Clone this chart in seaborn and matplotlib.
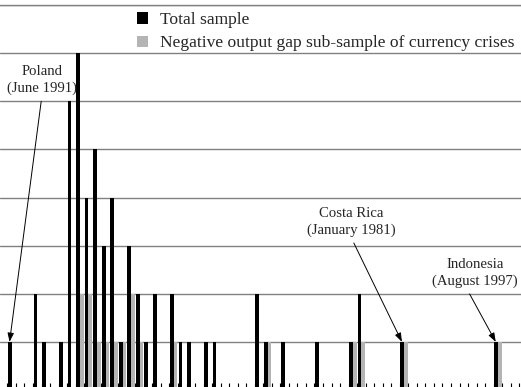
import numpy as np
import pandas as pd
import matplotlib
matplotlib.use("Agg")
import matplotlib.pyplot as plt
import seaborn as sns

# ---------------- data ----------------
bins = list(range(60))
total_sample = [
    1, 0, 0, 2, 1, 0, 1, 6, 7, 4,
    5, 3, 4, 1, 3, 2, 1, 2, 0, 2,
    1, 1, 0, 1, 1, 0, 0, 0, 0, 2,
    1, 0, 1, 0, 0, 0, 1, 0, 0, 0,
    1, 2, 0, 0, 0, 0, 1, 0, 0, 0,
    0, 0, 0, 0, 0, 0, 0, 1, 0, 0,
]
negative_gap = [
    0, 0, 0, 0, 0, 0, 0, 0, 2, 2,
    1, 1, 1, 1, 2, 1, 0, 0, 0, 1,
    0, 0, 0, 0, 0, 0, 0, 0, 0, 0,
    1, 0, 0, 0, 0, 0, 0, 0, 0, 0,
    1, 1, 0, 0, 0, 0, 1, 0, 0, 0,
    0, 0, 0, 0, 0, 0, 0, 1, 0, 0,
]
series_names = ["Total sample", "Negative output gap sub-sample of currency crises"]
annot_labels = ["Poland\n(June 1991)", "Costa Rica\n(January 1981)", "Indonesia\n(August 1997)"]
annot_bins = [0, 46, 57]

df = pd.DataFrame({
    "bin": bins * 2,
    "count": total_sample + negative_gap,
    "series": [series_names[0]] * len(bins) + [series_names[1]] * len(bins),
})

sns.set_style("white")
plt.rcParams["font.family"] = ["Liberation Serif", "DejaVu Serif"]

W, H = 521, 387
fig = plt.figure(figsize=(W / 100, H / 100), dpi=100)
ax = fig.add_axes([0, -3 / H, 1, 385 / H])

sns.barplot(data=df, x="bin", y="count", hue="series", order=bins,
            hue_order=series_names, palette=["black", "#b4b4b4"],
            width=0.86, saturation=1, errorbar=None, linewidth=0, ax=ax)

ax.set_xlim(-1.37, 59.71)
ax.set_ylim(0, 8)
ax.set_axisbelow(True)
ax.set_yticks(range(1, 9))
ax.yaxis.grid(True, color="#808080", lw=1)
ax.xaxis.grid(False)
ax.tick_params(axis="y", length=0, labelleft=False)
ax.set_xticks(np.arange(-0.5, len(bins), 1))
ax.set_xticklabels([])
ax.tick_params(axis="x", direction="in", length=5, width=0.8, color="black", bottom=True)
ax.set_xlabel("")
ax.set_ylabel("")
for s in ["left", "right", "bottom"]:
    ax.spines[s].set_visible(False)
ax.spines["top"].set_color("#808080")
ax.spines["top"].set_linewidth(1)

ax.legend(loc="upper left", bbox_to_anchor=(137 / W, 1 - 12 / H),
          bbox_transform=fig.transFigure, frameon=False, fontsize=12.6,
          handlelength=0.62, handleheight=0.62, handletextpad=0.72,
          labelspacing=0.42, borderpad=0, borderaxespad=0)

text_pos = [(42, 80), (351, 222), (475, 273)]
relpos = [(0.5, 0.0), (0.5, 0.0), (0.4, 0.0)]
for lab, b, (px, py), rp in zip(annot_labels, annot_bins, text_pos, relpos):
    ax.annotate(lab, xy=(b - 0.25, total_sample[b]), xycoords="data",
                xytext=(px / W, 1 - py / H), textcoords="figure fraction",
                ha="center", va="center", fontsize=10.6, linespacing=1.38,
                arrowprops=dict(arrowstyle="-|>,head_length=0.5,head_width=0.18",
                                color="black", lw=0.7, shrinkA=2, shrinkB=0,
                                relpos=rp))

fig.savefig("out.png", dpi=100, facecolor="white")
